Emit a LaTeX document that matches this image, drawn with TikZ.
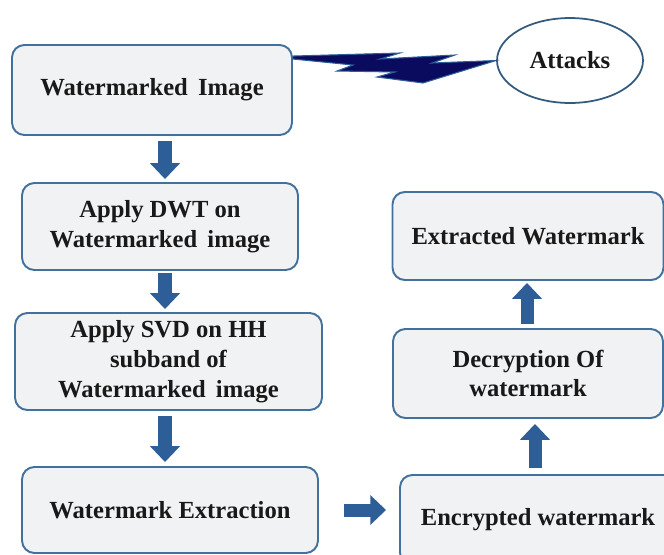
\documentclass[tikz,border=0pt]{standalone}
\usepackage{fontspec}
\setmainfont{Liberation Serif}
\usetikzlibrary{arrows.meta,shapes.geometric}

\definecolor{boxline}{HTML}{41719C}
\definecolor{boxfill}{HTML}{F1F2F4}
\definecolor{arrowblue}{HTML}{2E5E97}
\definecolor{boltnavy}{HTML}{0A0A5E}

\tikzset{
  stagebox/.style={draw=boxline, line width=1.1pt, fill=boxfill, rounded corners=7pt,
    align=center, font=\bfseries\fontsize{14}{17}\selectfont, text=black!90, inner sep=2pt},
  flowarrow/.style={draw=arrowblue, line width=7.4pt, -{Triangle[width=16.5pt,length=9pt]}},
}

\begin{document}
\begin{tikzpicture}[x=0.02cm, y=0.02cm]
            \useasboundingbox (0,0) rectangle (664,-555);

            % left column
            \node[stagebox, minimum width=5.6cm, minimum height=1.8cm] (wm) at (152,-90) {Watermarked\, Image};
            \node[stagebox, minimum width=5.52cm, minimum height=1.74cm] (dwt) at (160,-226.5) {Apply DWT on\\Watermarked\, image};
            \node[stagebox, minimum width=6.14cm, minimum height=1.94cm] (svd) at (168.5,-361.5) {Apply SVD on HH\\subband of\\Watermarked\, image};
            \node[stagebox, minimum width=5.92cm, minimum height=1.72cm] (ext) at (170,-510) {Watermark Extraction};

            % right column
            \node[stagebox, minimum width=5.42cm, minimum height=1.76cm] (extwm) at (528,-236) {Extracted Watermark};
            \node[stagebox, minimum width=5.4cm, minimum height=1.78cm] (dec) at (528,-373.5) {Decryption Of\\watermark};
            \node[stagebox, minimum width=5.52cm, minimum height=1.8cm] (enc) at (538,-520) {Encrypted watermark};

            % attacks
            \node[ellipse, draw=boxline!80!black, line width=1pt, fill=white, minimum width=2.92cm, minimum height=1.7cm,
              font=\bfseries\fontsize{14}{17}\selectfont, text=black!90] (att) at (570,-60.5) {Attacks};

            \coordinate (lcol) at (165,0);
            \coordinate (rcolA) at (527,0);
            \coordinate (rcolB) at (535,0);

            \draw[flowarrow, shorten <=0.1cm, shorten >=0.06cm] (wm.south -| lcol) -- (dwt.north -| lcol);
            \draw[flowarrow, shorten <=0.04cm, shorten >=0.06cm] (dwt.south -| lcol) -- (svd.north -| lcol);
            \draw[flowarrow, shorten <=0.1cm, shorten >=0.08cm] (svd.south -| lcol) -- (ext.north -| lcol);
            \draw[flowarrow, shorten <=0.5cm, shorten >=0.26cm] (ext.east |- enc.west) ++(0,10) coordinate (exo) (exo) -- (enc.west |- exo);
            \draw[flowarrow, shorten <=0.12cm, shorten >=0.1cm] (enc.north -| rcolB) -- (dec.south -| rcolB);
            \draw[flowarrow, shorten <=0.08cm, shorten >=0.04cm] (dec.north -| rcolA) -- (extwm.south -| rcolA);

            % lightning bolt
            \draw[fill=boltnavy, draw=arrowblue, line width=0.6pt, line join=miter]
              ([yshift=-0.24cm]wm.north east) -- (400,-53) -- (380,-59) -- (455,-55) -- (432,-63) -- (att.west)
              -- (423,-83) -- (377,-77) -- (395,-72) -- (337,-71) -- (353,-65) -- ([yshift=-0.3cm]wm.north east) -- cycle;
        \end{tikzpicture}
\end{document}
